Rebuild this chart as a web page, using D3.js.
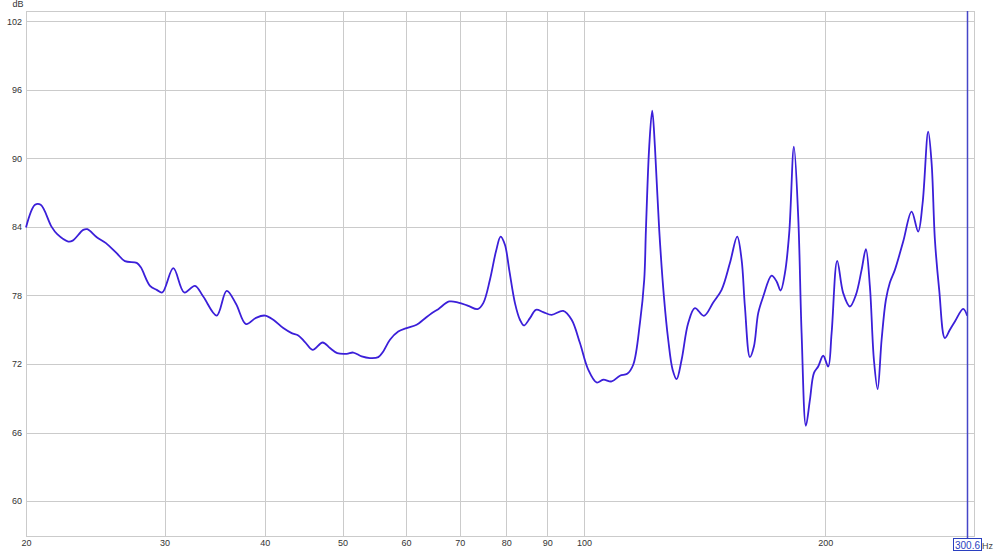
<!DOCTYPE html>
<html><head><meta charset="utf-8">
<script src="https://cdn.jsdelivr.net/npm/d3@7"></script>
<style>
html,body{margin:0;padding:0;background:#fff;}
svg{display:block;font-family:"Liberation Sans",Arial,sans-serif;}
</style></head>
<body><svg id="c" width="1000" height="552"></svg>
<script>
// Frequency (Hz) and level (dB)
const freqs = [20.15,20.68,21.02,21.69,22.04,22.75,23.04,23.75,24.03,24.69,25.35,26.14,26.77,27.69,28.01,28.77,29.33,29.80,30.76,31.74,32.73,33.52,34.84,35.85,36.82,37.90,39.00,40.02,40.99,42.18,43.21,44.04,44.89,45.89,47.23,48.23,49.25,50.60,51.57,52.83,54.10,55.41,56.21,57.30,58.68,60.11,61.86,63.05,64.59,65.82,67.93,69.71,71.74,73.70,74.90,76.35,77.68,78.74,79.71,80.70,82.04,83.22,84.18,85.65,87.13,88.98,91.15,94.24,96.54,98.87,101.25,103.72,105.70,108.29,110.90,113.25,115.21,117.45,118.91,119.49,120.63,121.67,122.62,124.14,125.83,127.39,129.01,130.50,132.39,134.92,137.54,141.14,144.96,148.50,152.08,155.30,157.28,158.77,161.07,162.93,164.95,167.34,171.42,173.90,175.91,178.10,180.31,182.76,185.03,186.84,189.16,191.35,193.56,195.96,198.80,201.67,203.65,206.95,210.55,214.64,218.37,221.97,224.73,227.32,229.95,232.41,235.09,238.01,240.76,244.24,250.13,256.24,261.14,264.46,268.75,271.39,273.97,277.37,281.95,286.02,290.16,297.16,300.59];
const levels = [83.94,85.93,85.93,84.0,83.36,82.72,82.8,83.74,83.8,83.1,82.58,81.7,81.0,80.85,80.48,78.84,78.49,78.26,80.39,78.26,78.84,77.9,76.24,78.4,77.27,75.49,76.04,76.24,75.87,75.14,74.7,74.5,73.92,73.24,73.88,73.39,72.95,72.89,73.0,72.66,72.52,72.6,73.1,74.12,74.84,75.14,75.43,75.87,76.45,76.8,77.47,77.38,77.09,76.8,77.33,79.37,81.84,83.15,82.43,80.24,77.33,75.87,75.37,76.01,76.74,76.54,76.3,76.65,75.87,73.83,71.5,70.38,70.62,70.47,70.97,71.14,71.93,75.58,79.37,83.74,91.03,94.18,91.03,83.74,77.9,74.12,71.5,70.68,72.37,75.58,76.89,76.22,77.38,78.49,80.83,83.15,81.12,77.03,72.6,73.53,76.45,77.9,79.74,79.22,78.43,79.95,83.45,91.03,84.9,74.7,66.59,68.86,71.2,71.78,72.72,71.78,74.7,81.03,78.2,77.03,78.05,80.24,82.05,78.78,72.37,69.8,74.12,77.62,79.13,80.24,82.72,85.34,83.59,86.07,92.34,89.58,82.87,78.49,74.27,74.99,75.72,76.83,76.22];
const xTickValues = [20.15,30,40,50,60,70,80,90,100,200];
const xTickLabels = ["20","30","40","50","60","70","80","90","100","200"];
const yTickValues = [60,66,72,78,84,90,96,102];
const cursorFreq = 300.6;
const cursorLabel = "300.6";
const xDomain = [20.15, 307.4];
const yDomain = [56.94, 102.9];

const L=26, R=975, T=11, B=536;
const svg = d3.select("#c");
const x = d3.scaleLog().domain(xDomain).range([L,R]);
const y = d3.scaleLinear().domain(yDomain).range([B,T]);
const grid = "#cbcbcb";

// grid
const g = svg.append("g");
g.selectAll(".vx").data(xTickValues).join("line")
  .attr("x1",d=>Math.round(x(d))+0.5).attr("x2",d=>Math.round(x(d))+0.5)
  .attr("y1",T).attr("y2",B).attr("stroke",grid).attr("stroke-width",1);
g.selectAll(".hy").data(yTickValues).join("line")
  .attr("x1",L).attr("x2",R)
  .attr("y1",d=>Math.round(y(d))+0.5).attr("y2",d=>Math.round(y(d))+0.5)
  .attr("stroke",grid).attr("stroke-width",1);
// frame
svg.append("rect").attr("x",L+0.5).attr("y",T+0.5).attr("width",R-L-1).attr("height",B-T)
  .attr("fill","none").attr("stroke",grid);

// axes labels via d3 axes
const yAxis = d3.axisLeft(y).tickValues(yTickValues).tickSize(0).tickPadding(4);
const ya = svg.append("g").attr("transform",`translate(${L},0)`).call(yAxis);
ya.select(".domain").remove();
ya.selectAll("text").attr("font-size",9).attr("fill","#333").attr("font-family","Liberation Sans, Arial, sans-serif");

const xAxis = d3.axisBottom(x).tickValues(xTickValues).tickSize(0).tickPadding(4)
  .tickFormat((d,i)=>xTickLabels[i]);
const xa = svg.append("g").attr("transform",`translate(0,${B})`).call(xAxis);
xa.select(".domain").remove();
xa.selectAll("text").attr("font-size",9).attr("fill","#333").attr("font-family","Liberation Sans, Arial, sans-serif");

svg.append("text").attr("x",18).attr("y",7).attr("text-anchor","middle")
  .attr("font-size",9).attr("fill","#333").text("dB");

// curve
const data = freqs.map((f,i)=>({f, v:levels[i]}));
const line = d3.line().x(d=>x(d.f)).y(d=>y(d.v)).curve(d3.curveCatmullRom.alpha(0.5));
svg.append("path").datum(data).attr("d",line)
  .attr("fill","none").attr("stroke","#3b1fd9").attr("stroke-width",1.8)
  .attr("stroke-linejoin","round");

// cursor
const cx = Math.round(x(cursorFreq))+0.5;
svg.append("line").attr("x1",cx).attr("x2",cx).attr("y1",T).attr("y2",538)
  .attr("stroke","#4646c8").attr("stroke-width",1.5);
const lbl = svg.append("text").attr("x",cx).attr("y",549).attr("text-anchor","middle")
  .attr("font-size",10).attr("fill","#2a3fbf").text(cursorLabel);
const bb = lbl.node().getBBox();
svg.append("rect").attr("x",Math.round(bb.x-1.5)+0.5).attr("y",538.5).attr("width",Math.round(bb.width+3)).attr("height",12)
  .attr("fill","none").attr("stroke","#2a3fbf").attr("stroke-width",1);
svg.append("text").attr("x",Math.round(bb.x+bb.width+2)).attr("y",548.5).attr("font-size",9)
  .attr("fill","#444").text("Hz");
</script></body></html>
